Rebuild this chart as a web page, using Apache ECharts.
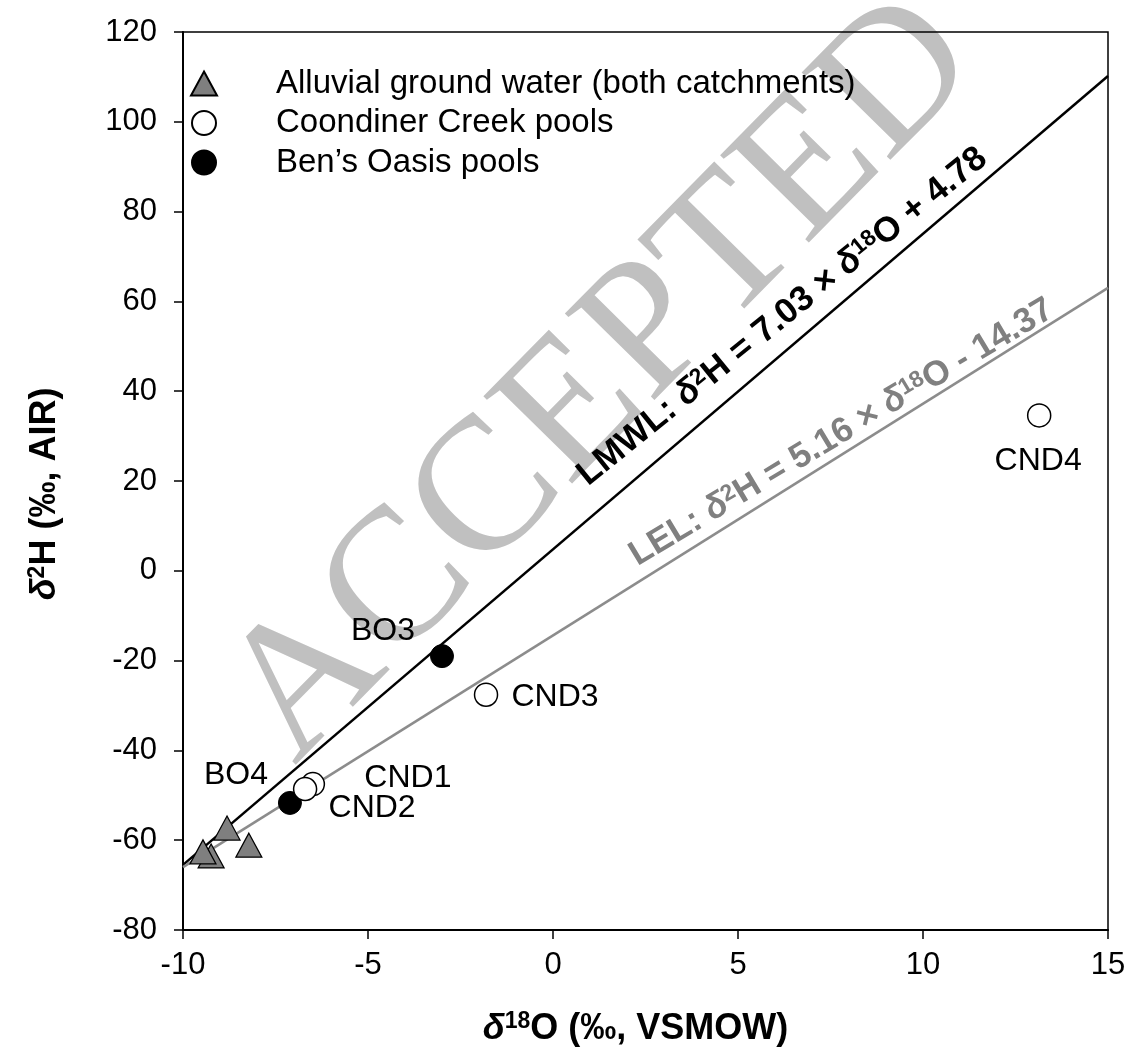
<!DOCTYPE html>
<html>
<head>
<meta charset="utf-8">
<script src="https://cdn.jsdelivr.net/npm/echarts@6/dist/echarts.min.js"></script>
<style>
html,body{margin:0;padding:0;background:#fff;}
#main{width:1130px;height:1053px;}
</style>
</head>
<body>
<div id="main"></div>
<script>
// ---- data ----
const alluvialX = [-8.81, -8.22, -9.24, -9.46];
const alluvialY = [-57.3, -61.1, -63.5, -62.6];

const cndNames = ['CND1', 'CND2', 'CND3', 'CND4'];
const cndX = [-6.49, -6.70, -1.81, 13.14];
const cndY = [-47.5, -48.6, -27.6, 34.6];

const boNames = ['BO3', 'BO4'];
const boX = [-3.0, -7.11];
const boY = [-19.0, -51.7];

const lmwlX = [-10, 15];
const lmwlY = [-65.5, 110.2];
const lelX = [-10, 15];
const lelY = [-66.0, 63.0];

const xMin = -10, xMax = 15, xStep = 5;
const yMin = -80, yMax = 120, yStep = 20;

const legendNames = ['Alluvial ground water (both catchments)', 'Coondiner Creek pools', 'Ben\u2019s Oasis pools'];

// ---- layout / style ----
const FONT = '"Liberation Sans", Arial, sans-serif';
const labelOffsets = {
  BO3: [-59, -25], BO4: [-54, -28],
  CND1: [95, -6], CND2: [67, 19], CND3: [69, 2], CND4: [-1, 46]
};

function zip(xs, ys) { return xs.map((x, i) => [x, ys[i]]); }
function namedPoints(names, xs, ys) {
  return names.map((n, i) => ({
    name: n, value: [xs[i], ys[i]],
    label: { show: true, position: 'inside', offset: labelOffsets[n], formatter: n,
      color: '#000', fontSize: 32, fontFamily: FONT }
  }));
}

const chart = echarts.init(document.getElementById('main'), null, { renderer: 'canvas' });

const supRich = {
  i: { fontStyle: 'italic', fontWeight: 'bold', fontSize: 36, fontFamily: FONT },
  s: { fontSize: 23, fontWeight: 'bold', verticalAlign: 'top', fontFamily: FONT, lineHeight: 23 },
  n: { fontSize: 36, fontWeight: 'bold', fontFamily: FONT }
};

const option = {
  backgroundColor: '#fff',
  animation: false,
  grid: { left: 183, right: 22, top: 32, bottom: 122, show: true, borderColor: '#000', borderWidth: 1.5 },
  legend: {
    data: legendNames.map(n => ({ name: n })),
    orient: 'vertical', left: 185, top: 62,
    itemWidth: 26, itemHeight: 24, itemGap: 6.5,
    textStyle: { fontSize: 33, fontFamily: FONT, color: '#000', padding: [0, 0, 0, 54] },
    selectedMode: false
  },
  xAxis: {
    type: 'value', min: xMin, max: xMax, interval: xStep,
    axisLine: { show: true, onZero: false, lineStyle: { color: '#000', width: 2 } },
    axisTick: { show: true, length: 9, lineStyle: { color: '#000', width: 1.5 } },
    axisLabel: { fontSize: 31, fontFamily: FONT, color: '#000', margin: 20 },
    splitLine: { show: false },
    name: '{i|δ}{s|18}{n|O (‰, VSMOW)}',
    nameLocation: 'middle', nameGap: 80,
    nameTextStyle: { rich: supRich, lineHeight: 38, padding: [0, 20, 0, 0] }
  },
  yAxis: {
    type: 'value', min: yMin, max: yMax, interval: yStep,
    axisLine: { show: true, onZero: false, lineStyle: { color: '#000', width: 2 } },
    axisTick: { show: true, length: 9, lineStyle: { color: '#000', width: 1.5 } },
    axisLabel: { fontSize: 31, fontFamily: FONT, color: '#000', margin: 26 },
    splitLine: { show: false },
    name: '{i|δ}{s|2}{n|H (‰, AIR)}',
    nameLocation: 'middle', nameRotate: 90, nameGap: 119,
    nameTextStyle: { rich: supRich, lineHeight: 38, padding: [0, 26, 0, 0] }
  },
  series: [
    {
      type: 'line', name: 'LMWL', data: zip(lmwlX, lmwlY), showSymbol: false, symbol: 'none',
      lineStyle: { color: '#000', width: 2.5 }, z: 1, silent: true
    },
    {
      type: 'line', name: 'LEL', data: zip(lelX, lelY), showSymbol: false, symbol: 'none',
      lineStyle: { color: '#8c8c8c', width: 2.5 }, z: 1, silent: true
    },
    {
      type: 'scatter', name: legendNames[0], data: zip(alluvialX, alluvialY),
      symbol: 'triangle', symbolSize: [26, 24],
      itemStyle: { color: '#7f7f7f', borderColor: '#000', borderWidth: 1.2, opacity: 1 }, z: 3
    },
    {
      type: 'scatter', name: legendNames[2], data: namedPoints(boNames, boX, boY),
      symbol: 'circle', symbolSize: 23,
      itemStyle: { color: '#000', borderColor: '#000', borderWidth: 1, opacity: 1 }, z: 3
    },
    {
      type: 'scatter', name: legendNames[1], data: namedPoints(cndNames, cndX, cndY),
      symbol: 'circle', symbolSize: 23,
      itemStyle: { color: '#fff', borderColor: '#000', borderWidth: 1.5, opacity: 1 }, z: 4
    }
  ]
};
chart.setOption(option);

// ---- annotations and watermark ----
const lmwlAnchor = chart.convertToPixel({ gridIndex: 0 }, [6.2, 56.6]);
const lelAnchor = chart.convertToPixel({ gridIndex: 0 }, [7.8, 30.8]);

function eqText(color) {
  return {
    i: { fontStyle: 'italic', fontWeight: 'bold', fontSize: 35, fontFamily: FONT, fill: color },
    s: { fontSize: 23, fontWeight: 'bold', verticalAlign: 'top', fontFamily: FONT, fill: color, lineHeight: 23 },
    n: { fontSize: 35, fontWeight: 'bold', fontFamily: FONT, fill: color }
  };
}

chart.setOption({
  graphic: {
    elements: [
      {
        type: 'text', x: 603, y: 381, rotation: 45.5 * Math.PI / 180, z: -5, silent: true,
        style: { text: 'ACCEPTED', font: '190px "Liberation Serif", "Times New Roman", serif',
          fill: '#c0c0c0', align: 'center', verticalAlign: 'middle' }
      },
      {
        type: 'text', x: lmwlAnchor[0], y: lmwlAnchor[1], rotation: 39 * Math.PI / 180, z: 50, silent: true,
        style: { text: '{n|LMWL: }{i|δ}{s|2}{n|H = 7.03 × }{i|δ}{s|18}{n|O + 4.78}',
          rich: eqText('#000'), align: 'center', verticalAlign: 'middle', fill: '#000' }
      },
      {
        type: 'text', x: lelAnchor[0], y: lelAnchor[1], rotation: 31 * Math.PI / 180, z: 50, silent: true,
        style: { text: '{n|LEL: }{i|δ}{s|2}{n|H = 5.16 × }{i|δ}{s|18}{n|O - 14.37}',
          rich: eqText('#808080'), align: 'center', verticalAlign: 'middle', fill: '#808080' }
      }
    ]
  }
});
</script>
</body>
</html>
